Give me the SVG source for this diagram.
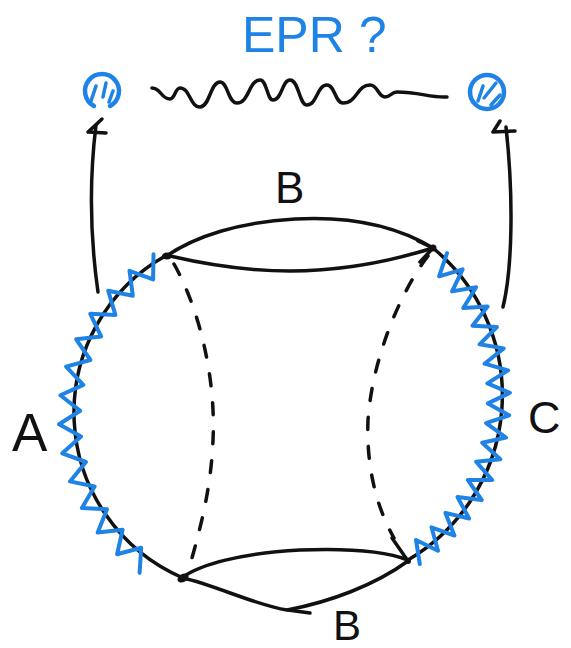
<svg xmlns="http://www.w3.org/2000/svg" width="571" height="648" viewBox="0 0 571 648">
  <style>
    .ink { fill: none; stroke: #111; stroke-width: 3.5; stroke-linecap: round; stroke-linejoin: round; }
    .dash { fill: none; stroke: #111; stroke-width: 3.5; stroke-linecap: round; stroke-dasharray: 12 17; }
    .blue { fill: none; stroke: #1e82e6; stroke-width: 4; stroke-linecap: round; stroke-linejoin: round; }
    .dot { fill: none; stroke: #1e82e6; stroke-width: 4.5; stroke-linecap: round; }
    .hatch { fill: none; stroke: #1e82e6; stroke-width: 3.5; stroke-linecap: round; }
    .lbl { font-family: "Liberation Sans", Arial, sans-serif; fill: #111; }
    .bluetxt { font-family: "Liberation Sans", Arial, sans-serif; fill: #1e82e6; }
  </style>
  <rect width="571" height="648" fill="#ffffff"/>

  <g id="title">
    <text class="bluetxt" x="242" y="52" font-size="50">EPR ?</text>
  </g>

  <g id="particle-left">
    <path class="dot" d="M94,106 A17,17 0 1 1 110,106"/>
    <path class="hatch" d="M96,86 L91,101 M106,83 L103,97 M113,91 L109,102"/>
  </g>
  <g id="particle-right">
    <circle class="dot" cx="487" cy="92" r="17"/>
    <path class="hatch" d="M478,101 L483,86 M484,98 L496,83 M491,105 L500,95"/>
  </g>

  <g id="entanglement">
    <path class="ink" d="M152,88 C161,88 161,99 170,99 C175,99 175,88 180,88 C190,88 190,107 200,107 C210,107 210,82 220,82 C228,82 228,103 237,103 C249,103 249,80 260,80 C267,80 267,100 273,100 C282,100 282,80 290,80 C299,80 299,105 307,105 C317,105 317,85 327,85 C335,85 335,103 343,103 C357,103 357,85 370,85 C378,85 378,97 385,97 C391,97 391,92 397,92 C420,92 430,98 447,97"/>
  </g>

  <g id="region-A">
    <path class="ink" d="M167,255 A180,180 0 0 0 183,578"/>
    <polyline class="blue" points="153.5,254.3 153.1,279.4 129.5,270.8 132.8,295.7 108.2,290.8 115.4,314.9 90.3,313.8 101.1,336.4 76.2,339.3 90.4,360 66.1,366.6 83.3,384.9 60.4,395.2 80.2,410.7 59.1,424.3 81,436.6 62.3,453.3 85.9,462 70,481.4 94.6,486.5 81.9,508.1 107,509.2 97.7,532.6 122.6,529.8 117.1,554.3 141.2,547.7 139.6,572.8"/>
    <text class="lbl" x="12" y="451" font-size="53">A</text>
  </g>

  <g id="region-C">
    <path class="ink" d="M433,248 A191,191 0 0 1 408,560"/>
    <polyline class="blue" points="447,253.2 439.1,276.3 462.6,269.4 452.1,291.4 476.1,287.3 463.3,308 487.6,306.6 472.5,325.7 496.9,327 479.6,344.3 503.7,348.4 484.6,363.7 508.1,370.4 487.4,383.4 509.9,392.8 487.9,403.4 509.2,415.3 486.1,423.2 506,437.5 482.2,442.8 500.3,459.2 476.1,461.8 492.2,480.1 467.8,479.9 481.7,500 457.5,497.1 469.1,518.5 445.4,512.9 454.4,535.6 431.5,527.3 438,550.8 416,540 419.8,564.1"/>
    <text class="lbl" x="528" y="433" font-size="45">C</text>
  </g>

  <g id="region-B-top">
    <path class="ink" d="M165,257 C195,236 240,222 295,219 C350,216 395,225 433,248"/>
    <path class="ink" d="M170,256 C200,263 240,271 290,271 C340,271 385,263 433,248"/>
    <path class="ink" d="M433,248 L418,241 M433,248 L420,262"/>
    <ellipse cx="167" cy="256" rx="5" ry="3.5" fill="#111"/>
    <circle cx="433" cy="248" r="3.5" fill="#111"/>
    <text class="lbl" x="275" y="203" font-size="44">B</text>
  </g>

  <g id="region-B-bottom">
    <path class="ink" d="M183,577 C200,565 240,553 300,550 C350,548 385,551 408,560"/>
    <path class="ink" d="M183,578 C215,585 255,605 287,610 C330,602 375,585 408,561"/>
    <path class="ink" d="M288,610 L310,613"/>
    <path class="ink" d="M392,538 L408,561"/>
    <ellipse cx="183" cy="578" rx="6" ry="4" fill="#111" transform="rotate(-30 183 578)"/>
    <circle cx="408" cy="561" r="3" fill="#111"/>
    <text class="lbl" x="333" y="640" font-size="42">B</text>
  </g>

  <g id="connectors">
    <path class="dash" d="M174,264 C200,310 216,380 213,440 C211,490 200,530 188,572"/>
    <path class="dash" d="M428,256 C400,292 372,360 368,420 C366,470 378,510 394,538"/>
    <path class="ink" d="M98,292 C92,250 88,190 96,125"/>
    <path class="ink" d="M102,119 L88,132 L106,133"/>
    <path class="ink" d="M503,307 C512,270 514,200 506,127"/>
    <path class="ink" d="M500,121 L493,132 L515,131"/>
  </g>
</svg>
